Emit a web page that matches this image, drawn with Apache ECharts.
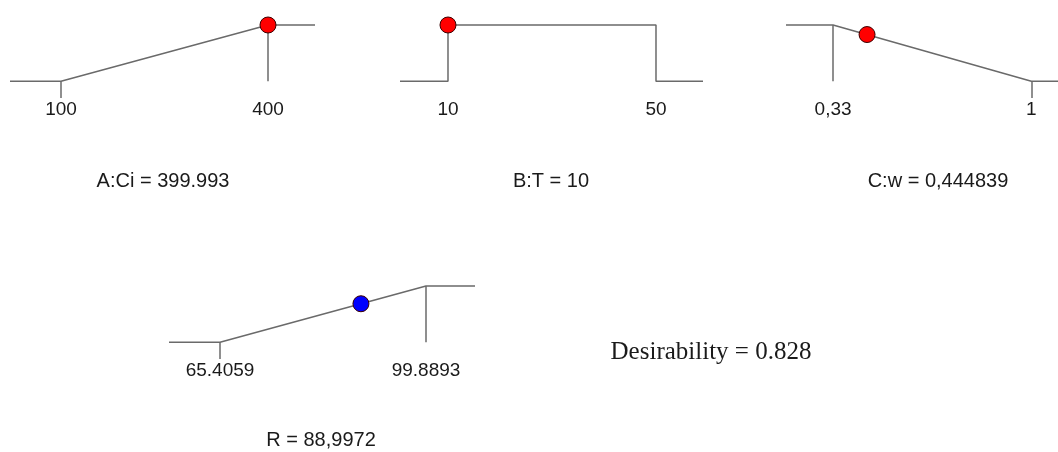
<!DOCTYPE html>
<html>
<head>
<meta charset="utf-8">
<script src="https://cdn.jsdelivr.net/npm/echarts@6/dist/echarts.min.js"></script>
<style>
  html, body { margin: 0; padding: 0; background: #fff; }
  #chart { width: 1058px; height: 452px; }
</style>
</head>
<body>
<div id="chart"></div>
<script>
// factor names and the values shown under each ramp
const factorNames = ['A:Ci', 'B:T', 'C:w', 'R'];
const currentLabels = ['399.993', '10', '0,444839', '88,9972'];
const limitLabels = [['100', '400'], ['10', '50'], ['0,33', '1'], ['65.4059', '99.8893']];
const lowLimits = [100, 10, 0.33, 65.4059];
const highLimits = [400, 50, 1, 99.8893];
const currentValues = [399.993, 10, 0.444839, 88.9972];
const currentDesirability = [1, 1, 0.83, 0.684];
const overallDesirability = '0.828';

// ramp shapes (x value, desirability) incl. the short extensions on both sides
const rampA = [[26.1, 0], [100, 0], [400, 1], [468.1, 1]];
const rampB = [[0.77, 0], [10, 0], [10, 1], [50, 1], [50, 0], [59.04, 0]];
const rampC = [[0.171, 1], [0.33, 1], [1, 0], [1.09, 0]];
const rampR = [[56.87, 0], [65.4059, 0], [99.8893, 1], [108.09, 1]];
const ramps = [rampA, rampB, rampC, rampR];

// goal verticals and little ticks under the limits
const goalLines = [
  [[400, 1], [400, 0], [100, 0], [100, -0.3]],
  [],
  [[0.33, 1], [0.33, 0], [1, 0], [1, -0.3]],
  [[99.8893, 1], [99.8893, 0], [65.4059, 0], [65.4059, -0.3]]
];
const pointColors = ['#ff0000', '#ff0000', '#ff0000', '#0000ff'];

// layout of the four small panels
const panels = [
  { left: 10, top: 25, width: 305 },
  { left: 400, top: 25, width: 303 },
  { left: 786, top: 25, width: 284 },
  { left: 169, top: 286, width: 306 }
];
const titlePos = [[163, 181], [551, 181], [938, 181], [321, 440]];

const lineColor = '#6a6a6a';
const textColor = '#1a1a1a';
const fontFamily = 'Arial, "Liberation Sans", sans-serif';

const grid = [], xAxis = [], yAxis = [], series = [];
ramps.forEach((ramp, i) => {
  grid.push({ left: panels[i].left, top: panels[i].top, width: panels[i].width, height: 73 });
  xAxis.push({ gridIndex: i, type: 'value', min: ramp[0][0], max: ramp[ramp.length - 1][0], show: false });
  yAxis.push({ gridIndex: i, type: 'value', min: -0.3, max: 1, show: false });

  const segs = [];
  for (let k = 0; k < goalLines[i].length; k += 2) {
    segs.push([{ coord: goalLines[i][k] }, { coord: goalLines[i][k + 1] }]);
  }
  series.push({
    type: 'line',
    xAxisIndex: i, yAxisIndex: i,
    data: ramp,
    symbol: 'none',
    clip: false,
    silent: true,
    lineStyle: { color: lineColor, width: 1.5 },
    markLine: {
      silent: true,
      symbol: 'none',
      label: { show: false },
      lineStyle: { color: lineColor, width: 1.5, type: 'solid' },
      data: segs
    }
  });
  series.push({
    type: 'scatter',
    xAxisIndex: i, yAxisIndex: i,
    data: [[lowLimits[i], -0.3], [highLimits[i], -0.3]],
    symbolSize: 0,
    clip: false,
    silent: true,
    itemStyle: { opacity: 1 },
    label: {
      show: true,
      position: 'bottom',
      distance: 2,
      color: textColor,
      fontSize: 19,
      fontFamily: fontFamily,
      formatter: (p) => limitLabels[i][p.dataIndex]
    }
  });
  series.push({
    type: 'scatter',
    xAxisIndex: i, yAxisIndex: i,
    data: [[currentValues[i], currentDesirability[i]]],
    symbolSize: 16,
    clip: false,
    silent: true,
    z: 5,
    itemStyle: { color: pointColors[i], borderColor: '#3a0000', borderWidth: 1, opacity: 1 }
  });
});

const graphics = factorNames.map((name, i) => ({
  type: 'text',
  x: titlePos[i][0],
  y: titlePos[i][1],
  style: {
    text: name + ' = ' + currentLabels[i],
    fill: textColor,
    font: '20px ' + fontFamily,
    textAlign: 'center',
    textVerticalAlign: 'middle'
  }
}));
graphics.push({
  type: 'text',
  x: 711,
  y: 352,
  style: {
    text: 'Desirability = ' + overallDesirability,
    fill: textColor,
    font: '25px "Times New Roman", "Liberation Serif", serif',
    textAlign: 'center',
    textVerticalAlign: 'middle'
  }
});

const chart = echarts.init(document.getElementById('chart'));
chart.setOption({
  animation: false,
  backgroundColor: '#ffffff',
  grid: grid,
  xAxis: xAxis,
  yAxis: yAxis,
  series: series,
  graphic: { elements: graphics }
});
</script>
</body>
</html>
